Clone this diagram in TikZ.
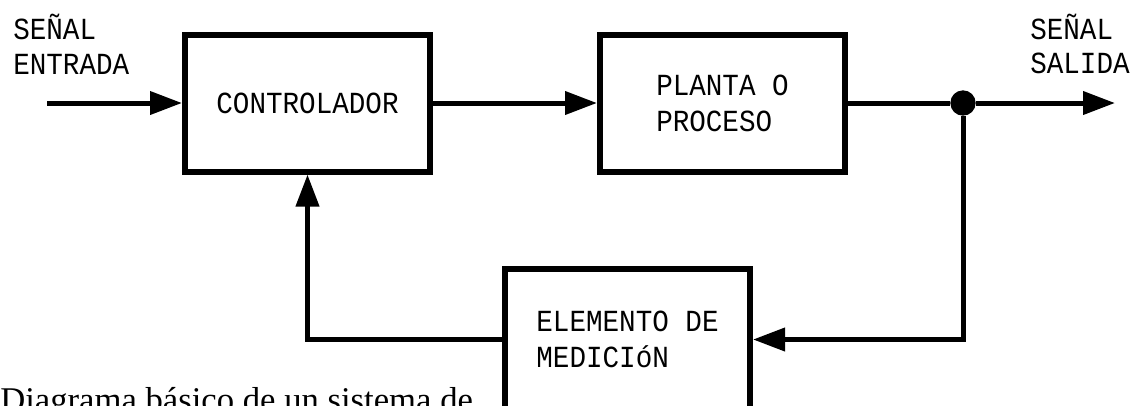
\documentclass[tikz,border=0pt]{standalone}
\usepackage{fontspec}
\setmainfont{Liberation Serif}
\newfontfamily\cadfont[FakeStretch=0.9]{Liberation Mono}
\usetikzlibrary{arrows.meta}

\tikzset{
  bloque/.style={draw, line width=4.5pt, minimum width=183.75pt, minimum height=102.75pt, inner sep=0pt, align=left, font=\cadfont\fontsize{23}{27}\selectfont},
  etiqueta/.style={inner sep=0pt, align=left, font=\cadfont\fontsize{23}{26}\selectfont},
  flecha/.style={line width=3.75pt, -{Triangle[length=24pt,width=17pt]}},
  linea/.style={line width=3.75pt},
}

\begin{document}
\begin{tikzpicture}[x=0.75pt,y=0.75pt,yscale=-1,xscale=1]
        \useasboundingbox (0,0) rectangle (1131,405);
        \clip (0,0) rectangle (1131,405);

        %Shape: Rectangle [controlador]
        \node[bloque] (ctrl) at (307.5,103) {CONTROLADOR};
        %Shape: Rectangle [planta]
        \node[bloque] (planta) at (722.5,103) {PLANTA O\\PROCESO};
        %Shape: Rectangle [medicion]
        \node[bloque, minimum height=105.75pt] (medic) at (627.5,339.5) {ELEMENTO DE\\MEDICIóN};
        %Shape: Circle [junction]
        \node[fill, circle, inner sep=0pt, minimum size=19pt] (split) at (963,103) {};
        \coordinate (entrada) at (47,103);
        \coordinate (salida) at (1115,103);

        % Text Node
        \node[etiqueta, anchor=west] (lblin) at (13,44) {SEÑAL\\ENTRADA};
        % Text Node
        \node[etiqueta, anchor=west] (lblout) at (1030,44) {SEÑAL\\SALIDA};
        % Text Node
        \node[font=\fontsize{26}{30}\selectfont, anchor=base west, inner sep=0pt] (pie) at (0,411) {Diagrama básico de un sistema de};

        % Connectors
        \draw[flecha] (entrada) -- (ctrl.west);
        \draw[flecha] (ctrl.east) -- (planta.west);
        \draw[linea] (planta.east) -- (split);
        \draw[flecha] (split) -- (salida);
        \draw[flecha] (split) |- (medic.east);
        \draw[flecha] (medic.west) -| (ctrl.south);
\end{tikzpicture}
\end{document}
